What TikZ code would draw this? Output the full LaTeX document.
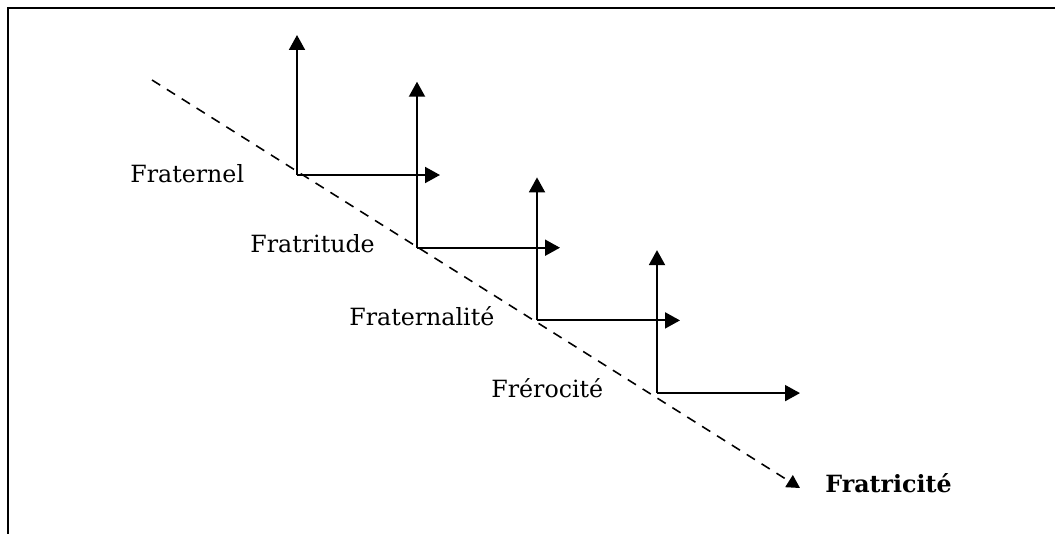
\documentclass[tikz,border=0pt]{standalone}
\usepackage{fontspec}
\setmainfont{DejaVu Serif}
\usetikzlibrary{arrows.meta,calc}
\tikzset{
  >={Triangle[length=3mm,width=3.2mm]},
  frame/.style = {line width=1.3pt},
  axis/.style = {->, line width=1.1pt},
  trend/.style = {dash pattern=on 5.5pt off 4.5pt, -{Triangle[length=2.6mm,width=2.8mm]}, line width=0.9pt},
  word/.style = {font=\fontsize{13.5}{16}\selectfont, inner sep=0pt, anchor=base west},
  wordBold/.style = {word, font=\fontsize{13.5}{16}\selectfont\bfseries},
}

\begin{document}
\begin{tikzpicture}[x=0.02cm, y=-0.02cm]
  \useasboundingbox (0,0) rectangle (1055,534);

  % cropped frame
  \draw[frame] (8,534) -- (8,8) -- (1055,8);

  \def\stepDx{120}
  \def\stepDy{72.7}
  \def\armLen{143}

  % ----------------------------------------------------------------------
  % Steps: one corner on the trend line, one arrow up, one arrow right
  % ----------------------------------------------------------------------
  \foreach \i/\h in {1/140, 2/166, 3/143, 4/143} {
    \coordinate (c\i) at ({297+(\i-1)*\stepDx}, {175+(\i-1)*\stepDy});
    \coordinate (up\i) at ($(c\i)+(0,-\h)$);
    \coordinate (right\i) at ($(c\i)+(\armLen,0)$);
  }

  % Trend line
  \coordinate (trendStart) at (152,80);
  \coordinate (trendEnd) at (800,488);
  \draw[trend] (trendStart) -- (trendEnd);

  \foreach \i in {1,...,4} {
    \draw[axis] (c\i) -- (up\i);
    \draw[axis] (c\i) -- (right\i);
  }

  % Labels
  \node[word] (fraternel) at (130,182) {Fraternel};
  \node[word] (fratritude) at (250,252) {Fratritude};
  \node[word] (fraternalite) at (349,325) {Fraternalité};
  \node[word] (ferocite) at (491,397) {Frérocité};
  \node[wordBold] (fratricite) at (825,492) {Fratricité};

\end{tikzpicture}
\end{document}
